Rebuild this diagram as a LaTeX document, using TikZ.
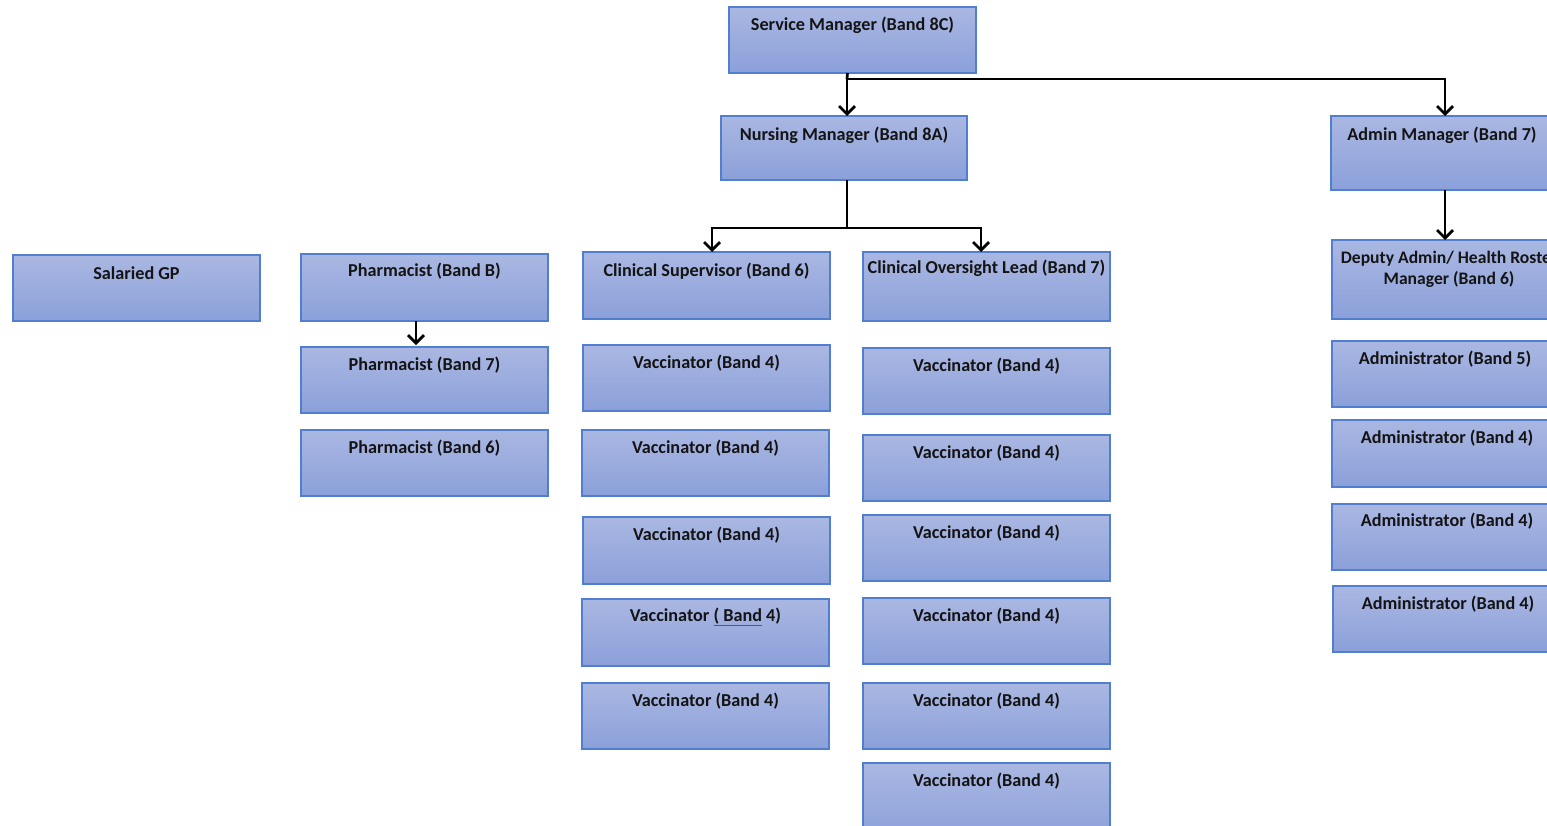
\documentclass[tikz,border=0pt]{standalone}
\usepackage{fontspec}
\setmainfont{Carlito}
\usetikzlibrary{arrows.meta}
\definecolor{boxtop}{RGB}{170,183,226}
\definecolor{boxbot}{RGB}{139,160,218}
\definecolor{boxline}{RGB}{82,126,208}
\definecolor{txt}{RGB}{20,20,20}
\definecolor{spell}{RGB}{40,90,220}
\tikzset{
  obox/.style={rectangle, draw=boxline, line width=1.3pt, top color=boxtop, bottom color=boxbot, inner sep=0pt, outer sep=0pt},
  olbl/.style={inner sep=0pt, font=\bfseries\fontsize{18.2}{21}\selectfont, text=txt, align=center},
  conn/.style={line width=2.7pt, black},
  arr/.style={conn, -{Straight Barb[length=8pt,width=16pt,line width=2.7pt]}}
}
\newcommand\obox[7][18]{%
  \pgfmathsetmacro\bw{#5-#3}%
  \pgfmathsetmacro\bh{#6-#4}%
  \node[obox, anchor=north west, minimum width=\bw pt, minimum height=\bh pt] (#2) at (#3,#4) {};
  \node[olbl] (#2-t) at ([yshift=-#1pt]#2.north) {#7};
}
\newcommand\rbox[5]{%
  \pgfmathsetmacro\bw{#4-#2}%
  \pgfmathsetmacro\bh{#5-#3}%
  \node[obox, anchor=north west, minimum width=\bw pt, minimum height=\bh pt] (#1) at (#2,#3) {};
}
\begin{document}
\begin{tikzpicture}[x=1pt,y=-1pt]
\useasboundingbox (0,0) rectangle (1547,825);
\clip (0,0) rectangle (1547,825);
% top
\obox{sm}{729}{7}{976}{73}{Service Manager (Band 8C)}
\obox[19]{nm}{721}{116}{967}{180}{Nursing Manager (Band 8A)}
\rbox{am}{1331}{116}{1562}{190}
\node[olbl] (am-t) at (1442,135) {Admin Manager (Band 7)};
% left
\obox{gp}{13}{255}{260}{321}{Salaried GP}
\obox[17]{phb}{301}{254}{548}{321}{Pharmacist (Band B)}
\obox{ph7}{301}{347}{548}{413}{Pharmacist (Band 7)}
\obox{ph6}{301}{430}{548}{496}{Pharmacist (Band 6)}
% column 1
\obox[19]{cs}{583}{252}{830}{319}{Clinical Supervisor (Band 6)}
\obox{v1a}{583}{345}{830}{411}{Vaccinator (Band 4)}
\obox{v1b}{582}{430}{829}{496}{Vaccinator (Band 4)}
\obox{v1c}{583}{517}{830}{584}{Vaccinator (Band 4)}
\obox{v1d}{582}{599}{829}{666}{Vaccinator {\color{spell}\underline{\color{txt}( Band}} 4)}
\obox{v1e}{582}{683}{829}{749}{Vaccinator (Band 4)}
% column 2
\obox[16]{col}{863}{252}{1110}{321}{Clinical Oversight Lead (Band 7)}
\obox{v2a}{863}{348}{1110}{414}{Vaccinator (Band 4)}
\obox{v2b}{863}{435}{1110}{501}{Vaccinator (Band 4)}
\obox{v2c}{863}{515}{1110}{581}{Vaccinator (Band 4)}
\obox{v2d}{863}{598}{1110}{664}{Vaccinator (Band 4)}
\obox{v2e}{863}{683}{1110}{749}{Vaccinator (Band 4)}
\obox{v2f}{863}{763}{1110}{840}{Vaccinator (Band 4)}
% right column
\rbox{dep}{1332}{240}{1562}{319}
\node[olbl, anchor=north, font=\bfseries\fontsize{17.6}{21}\selectfont] (dep-t) at (1449,251) {Deputy Admin/ Health Roster\\Manager (Band 6)};
\rbox{ad5}{1332}{341}{1562}{407}
\node[olbl] (ad5-t) at (1445,359) {Administrator (Band 5)};
\rbox{ad4a}{1332}{420}{1562}{487}
\node[olbl] (ad4a-t) at (1447,438) {Administrator (Band 4)};
\rbox{ad4b}{1332}{504}{1562}{570}
\node[olbl] (ad4b-t) at (1447,521) {Administrator (Band 4)};
\rbox{ad4c}{1333}{586}{1562}{652}
\node[olbl] (ad4c-t) at (1448,604) {Administrator (Band 4)};
% connectors
\coordinate (j1) at (847,79);
\draw[conn] ([xshift=-5pt]sm.south) -- (j1);
\draw[arr] (j1) -- (j1 |- nm.north);
\draw[arr] (j1) -| (1445,116) coordinate (amtop);
\draw[conn] (nm.south -| 847,0) -- (847,228) coordinate (j2);
\draw[arr] (j2) -| (712,252);
\draw[arr] (j2) -| (981,252);
\draw[arr] (am.south -| 1445,0) -- (1445,240);
\draw[arr] (phb.south -| 416,0) -- (416,345);
\end{tikzpicture}
\end{document}
